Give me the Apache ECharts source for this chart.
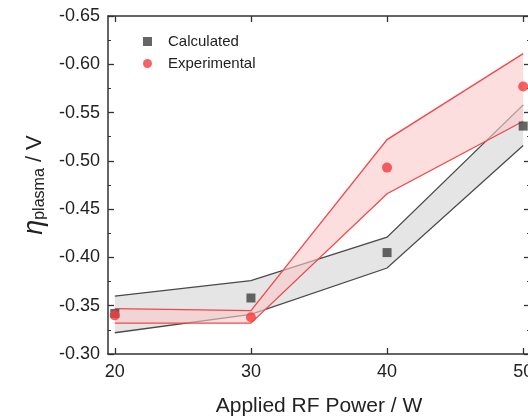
<!DOCTYPE html>
<html>
<head>
<meta charset="utf-8">
<script src="https://cdn.jsdelivr.net/npm/echarts@6/dist/echarts.min.js"></script>
<style>
  html, body { margin: 0; padding: 0; background: #fff; overflow: hidden; }
  #chart { width: 528px; height: 419px; }
</style>
</head>
<body>
<div id="chart"></div>
<script>
const power = [20, 30, 40, 50];
const calculated = [-0.342, -0.358, -0.405, -0.536];
const experimental = [-0.340, -0.338, -0.493, -0.577];
const calcUpper = [-0.360, -0.376, -0.421, -0.558];
const calcLower = [-0.322, -0.341, -0.389, -0.516];
const expUpper = [-0.347, -0.345, -0.522, -0.611];
const expLower = [-0.332, -0.332, -0.466, -0.541];
const xTicks = [20, 30, 40, 50];

const FONT = 'Arial, "Liberation Sans", sans-serif';
const AXIS_COLOR = '#333';
const GRAY = '#404040';
const RED = '#f23c3c';

const pairs = (ys) => ys.map((y, i) => [power[i], y]);

// filled band between two boundaries, outlined on both edges
function band(name, lower, upper, lineColor, fill, z) {
  return {
    name: name, type: 'custom', silent: true, z: z,
    data: [0],
    renderItem: (params, api) => {
      const up = upper.map((y, i) => api.coord([power[i], y]));
      const lo = lower.map((y, i) => api.coord([power[i], y]));
      const line = { stroke: lineColor, lineWidth: 1.3, fill: null };
      return {
        type: 'group',
        children: [
          { type: 'polygon', shape: { points: up.concat(lo.slice().reverse()) }, style: { fill: fill } },
          { type: 'polyline', shape: { points: up }, style: line },
          { type: 'polyline', shape: { points: lo }, style: line }
        ]
      };
    }
  };
}

const chart = echarts.init(document.getElementById('chart'));
chart.setOption({
  animation: false,
  textStyle: { fontFamily: FONT },
  grid: { left: 108, right: -2, top: 16, bottom: 65, outerBoundsMode: 'none' },
  legend: {
    data: [
      { name: 'Calculated', icon: 'rect' },
      { name: 'Experimental', icon: 'circle' }
    ],
    orient: 'vertical', left: 138, top: 29, itemGap: 7,
    itemWidth: 9, itemHeight: 9,
    textStyle: { fontSize: 15, color: '#222', fontFamily: FONT, padding: [0, 0, 0, 11] }
  },
  xAxis: [
    {
      type: 'value', min: 19.5, max: 50.5,
      axisLine: { lineStyle: { color: AXIS_COLOR, width: 1.5 } },
      axisTick: { inside: true, length: 6, customValues: xTicks, lineStyle: { color: AXIS_COLOR, width: 1.3 } },
      axisLabel: { customValues: xTicks, fontSize: 18, color: '#222', margin: 9, alignMaxLabel: 'center', alignMinLabel: 'center' },
      splitLine: { show: false },
      name: 'Applied RF Power / W', nameLocation: 'middle', nameGap: 42,
      nameTextStyle: { fontSize: 21, color: '#222' }
    },
    {
      type: 'value', position: 'top', min: 19.5, max: 50.5,
      axisLine: { show: true, onZero: false, lineStyle: { color: AXIS_COLOR, width: 1.5 } },
      axisTick: { inside: true, length: 6, customValues: xTicks, lineStyle: { color: AXIS_COLOR, width: 1.3 } },
      axisLabel: { show: false }, splitLine: { show: false }
    }
  ],
  yAxis: [
    {
      type: 'value', inverse: true, min: -0.65, max: -0.30, interval: 0.05,
      axisLine: { show: true, onZero: false, lineStyle: { color: AXIS_COLOR, width: 1.5 } },
      axisTick: { inside: true, length: 6, lineStyle: { color: AXIS_COLOR, width: 1.3 } },
      minorTick: { show: true, splitNumber: 2, length: 3, lineStyle: { color: AXIS_COLOR, width: 1 } },
      axisLabel: { fontSize: 18, color: '#222', margin: 8, formatter: (v) => v.toFixed(2) },
      splitLine: { show: false },
      name: '{eta|η}{sub|plasma}{rest| / V}', nameLocation: 'middle', nameGap: 58,
      nameTextStyle: {
        rich: {
          eta: { fontSize: 27, fontStyle: 'italic', color: '#222', fontFamily: FONT },
          sub: { fontSize: 16, color: '#222', fontFamily: FONT, padding: [10, 0, 0, 0] },
          rest: { fontSize: 22, color: '#222', fontFamily: FONT }
        }
      }
    },
    {
      type: 'value', position: 'right', inverse: true, min: -0.65, max: -0.30, interval: 0.05,
      axisLine: { show: true, onZero: false, lineStyle: { color: AXIS_COLOR, width: 1.5 } },
      axisTick: { inside: true, length: 6, lineStyle: { color: AXIS_COLOR, width: 1.3 } },
      minorTick: { show: true, splitNumber: 2, length: 3, lineStyle: { color: AXIS_COLOR, width: 1 } },
      axisLabel: { show: false }, splitLine: { show: false }
    }
  ],
  series: [
    band('calcBand', calcLower, calcUpper, '#4a4a4a', '#e5e5e5', 1),
    band('expBand', expLower, expUpper, '#f04848', 'rgba(251,200,200,0.6)', 2),
    {
      name: 'Calculated', type: 'scatter', data: pairs(calculated),
      symbol: 'rect', symbolSize: 9, itemStyle: { color: GRAY }, z: 5
    },
    {
      name: 'Experimental', type: 'scatter', data: pairs(experimental),
      symbol: 'circle', symbolSize: 10, itemStyle: { color: RED }, z: 6
    }
  ]
});
</script>
</body>
</html>
